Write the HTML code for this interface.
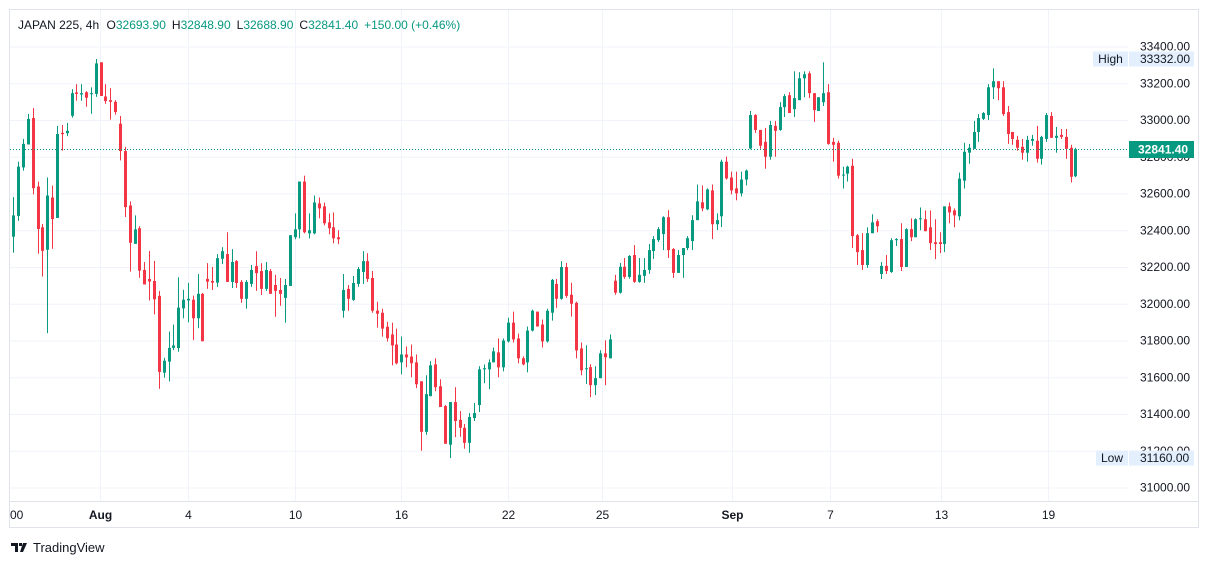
<!DOCTYPE html>
<html><head><meta charset="utf-8"><style>
html,body{margin:0;padding:0;background:#fff;}
svg{display:block;font-family:"Liberation Sans",sans-serif;}
</style></head><body>
<svg id="chart" width="1209" height="564" viewBox="0 0 1209 564" xmlns="http://www.w3.org/2000/svg">
<rect x="0" y="0" width="1209" height="564" fill="#fff"/>
<g id="grid"></g>
<rect x="9.5" y="9.5" width="1189" height="518" fill="none" stroke="#e0e3eb"/>
<line x1="10" y1="501.5" x2="1198" y2="501.5" stroke="#e0e3eb"/>
<g id="candles"></g>
<g id="yaxis"></g>
<g id="xaxis"></g>
<text x="18" y="29" font-size="12" fill="#131722">JAPAN 225, 4h <tspan dx="4">O</tspan><tspan fill="#089981">32693.90</tspan><tspan dx="6">H</tspan><tspan fill="#089981">32848.90</tspan><tspan dx="6">L</tspan><tspan fill="#089981">32688.90</tspan><tspan dx="6">C</tspan><tspan fill="#089981">32841.40</tspan><tspan dx="6" fill="#089981">+150.00 (+0.46%)</tspan></text>
<g>
<path d="M11 543h7v9h-3v-6h-4z M19 543h3v3h-3z M23 543h4l-4 9h-3z" fill="#131722"/>
<text x="33" y="552" font-size="13" fill="#131722">TradingView</text>
</g>
</svg>
<script>
const opens=[32365,32478,32742,32867,33011,32638,32416,32294,32578,32467,32930,32928,33023,33150,33139,33151,33142,33142,33314,33128,33108,33099,32980,32831,32535,32326,32411,32184,32135,32124,32043,31625,31685,31760,31759,31975,32018,32022,31921,32054,32135,32124,32115,32245,32270,32119,32232,32119,32027,32108,32205,32178,32081,32178,32102,32075,32032,32097,32362,32405,32665,32383,32383,32546,32530,32443,32416,32362,31962,32081,32021,32108,32173,32232,32140,31962,31951,31875,31833,31778,31681,31724,31713,31681,31578,31303,31497,31670,31551,31443,31233,31465,31368,31325,31243,31378,31449,31643,31643,31681,31735,31654,31795,31897,31811,31703,31681,31854,31957,31887,31795,31951,32108,32027,32200,32049,32005,31757,31644,31655,31557,31595,31730,31703,32125,32060,32201,32146,32265,32119,32152,32184,32287,32346,32379,32471,32298,32168,32265,32303,32341,32455,32552,32514,32617,32433,32476,32773,32687,32628,32601,32676,32845,33027,32946,32881,32800,32968,32946,33070,33135,33059,33108,33227,33254,33146,33049,33097,33151,32881,32876,32703,32708,32751,32373,32292,32211,32384,32449,32162,32206,32173,32346,32352,32200,32406,32362,32460,32460,32416,32335,32335,32325,32530,32508,32476,32670,32822,32843,32935,33006,33027,33178,33211,33178,33043,32935,32892,32854,32822,32887,32887,32789,32897,33022,32903,32919,32908,32849,32693.9];
const highs=[32580,32773,32897,33033,33065,32665,32434,32687,32643,32968,32973,32984,33168,33195,33195,33157,33178,33332,33314,33195,33173,33108,33022,32854,32557,32481,32422,32227,32287,32233,32070,31706,31849,31887,32144,32076,32114,32044,32162,32059,32221,32200,32270,32308,32389,32297,32238,32129,32129,32211,32286,32221,32227,32189,32157,32140,32135,32373,32492,32665,32697,32492,32589,32578,32551,32492,32497,32400,32162,32102,32151,32200,32286,32275,32178,32011,31973,31902,31897,31865,31822,31768,31778,31724,31578,31611,31687,31703,31589,31449,31465,31546,31416,31346,31405,31460,31660,31670,31697,31762,31811,31811,31924,31957,31838,31714,31876,31968,31957,31914,31973,32135,32135,32232,32222,32114,32011,31789,31774,31671,31660,31747,31801,31833,32157,32222,32249,32265,32319,32249,32249,32325,32368,32417,32476,32509,32303,32292,32303,32368,32482,32649,32644,32628,32649,32492,32784,32801,32719,32719,32719,32730,33049,33032,32946,32957,32995,32995,33097,33141,33151,33265,33260,33265,33265,33146,33124,33314,33195,32903,32887,32746,32751,32789,32379,32384,32416,32487,32460,32227,32265,32357,32357,32438,32411,32465,32465,32524,32508,32508,32460,32389,32530,32551,32519,32714,32876,32870,32995,33032,33043,33195,33281,33211,33211,33076,32935,32914,32897,32914,32919,32968,32914,33038,33043,32962,32951,32951,32865,32848.9];
const lows=[32278,32451,32724,32867,32595,32272,32148,31840,32299,32467,32833,32912,33013,33105,33105,33072,33034,33126,33131,33088,33002,33029,32780,32472,32175,32326,32141,32105,32018,31942,31537,31598,31577,31748,31739,31921,31899,31802,31867,31796,32081,32075,32092,32216,32119,32086,32086,32005,31973,32092,32070,32048,32070,32054,31929,31989,31897,32097,32351,32356,32383,32356,32378,32465,32427,32378,32329,32324,31924,31962,32016,32092,32108,32119,31951,31870,31821,31794,31665,31670,31616,31654,31600,31541,31200,31287,31497,31524,31438,31238,31160,31274,31276,31211,31189,31362,31411,31568,31535,31681,31600,31632,31789,31789,31676,31665,31627,31849,31876,31762,31789,31908,31978,32022,32032,31930,31703,31611,31563,31492,31503,31595,31557,31703,32049,32055,32136,32136,32114,32114,32114,32163,32244,32336,32292,32249,32141,32168,32141,32292,32292,32455,32503,32509,32352,32401,32417,32676,32595,32563,32584,32644,32840,32930,32843,32735,32784,32800,32941,33016,33038,33016,33108,33124,33119,32989,33049,33076,32865,32773,32681,32627,32665,32303,32211,32184,32195,32384,32389,32135,32162,32168,32314,32178,32200,32341,32362,32400,32395,32292,32243,32276,32281,32438,32416,32454,32627,32762,32843,32881,33000,33000,33114,33108,33022,32870,32865,32833,32784,32773,32860,32768,32757,32881,32903,32822,32897,32789,32660,32688.9];
const closes=[32481,32746,32870,33006,32629,32407,32288,32589,32461,32924,32923,32941,33146,33142,33146,33121,33146,33308,33131,33103,33099,33043,32831,32526,32332,32405,32180,32105,32121,32024,31629,31690,31760,31773,31979,32022,32027,31921,32054,31796,32120,32115,32248,32286,32119,32227,32113,32027,32119,32184,32167,32081,32184,32054,32070,32054,32102,32373,32405,32665,32389,32400,32551,32519,32438,32411,32356,32351,32075,32027,32113,32189,32232,32135,31962,31946,31865,31812,31773,31676,31724,31708,31676,31562,31303,31508,31665,31546,31438,31238,31465,31362,31325,31243,31384,31405,31643,31649,31681,31741,31654,31800,31897,31806,31703,31670,31854,31962,31876,31795,31962,32130,32027,32200,32043,32000,31746,31638,31649,31557,31595,31730,31709,31806,32060,32201,32146,32260,32119,32157,32184,32292,32352,32406,32471,32292,32168,32265,32303,32357,32455,32557,32519,32622,32433,32455,32773,32682,32617,32601,32676,32725,33027,32946,32860,32800,32973,32941,33070,33130,33038,33119,33227,33249,33146,33054,33124,33146,32870,32865,32697,32703,32746,32368,32281,32211,32384,32443,32422,32206,32178,32346,32352,32200,32406,32362,32460,32465,32395,32330,32325,32325,32530,32497,32481,32681,32827,32849,32935,33011,33038,33178,33211,33173,33032,32924,32897,32849,32822,32892,32897,32789,32908,33027,32903,32914,32908,32843,32691,32841.4];
const priceTicks=[33400,33200,33000,32800,32600,32400,32200,32000,31800,31600,31400,31200,31000];
const timeLabels=["00","Aug","4","10","16","22","25","Sep","7","13","19"];
const timeLabelIdx=[0,17.9,36,58.1,79.9,101.9,121.4,148.2,168.4,191.3,213.3];
const timeLabelBold=[false,true,false,false,false,false,false,true,false,false,false];
const lastPrice=32841.4, highPrice=33332, lowPrice=31160;

const NS="http://www.w3.org/2000/svg";
function y(p){return 46.5+(33400-p)*0.18375;}
function x(i){return 13.3+i*4.85;}
function mk(tag,attrs,parent){const e=document.createElementNS(NS,tag);for(const k in attrs)e.setAttribute(k,attrs[k]);parent.appendChild(e);return e;}
const grid=document.getElementById('grid'),cg=document.getElementById('candles'),ya=document.getElementById('yaxis'),xa=document.getElementById('xaxis');
priceTicks.forEach(p=>{
  const l=mk('line',{x1:10,x2:1128,y1:y(p)+0.5,y2:y(p)+0.5,stroke:'#f0f3fa'},grid);
  
  
  const t=mk('text',{x:1140,y:y(p)+4,'font-size':12,fill:'#131722'},ya);
  t.textContent=p.toFixed(2);
  
  
});
timeLabels.forEach((s,k)=>{
  const xx=Math.round(x(timeLabelIdx[k]))+0.5;
  if(k>0){const l=mk('line',{x1:xx,x2:xx,y1:10,y2:501,stroke:'#f0f3fa'},grid);
  
  }
  const t=mk('text',{x:k===0?10:xx,y:519,'font-size':12,fill:'#131722','text-anchor':k===0?'start':'middle','font-weight':timeLabelBold[k]?'bold':'normal'},xa);
  t.textContent=s;
  
  
});
for(let i=0;i<opens.length;i++){
  const up=closes[i]>=opens[i],c=up?'#089981':'#f23645',cx=Math.round(x(i));
  const g=mk('g',{},cg);
  
  
  mk('rect',{x:cx,y:y(highs[i]),width:1,height:Math.max(1,y(lows[i])-y(highs[i])),fill:c},g);
  const top=y(Math.max(opens[i],closes[i])),bot=y(Math.min(opens[i],closes[i]));
  mk('rect',{x:cx-1,y:top,width:3,height:Math.max(1,bot-top),fill:c},g);
}
// last price line + label
const ly=Math.round(y(lastPrice))+0.5;
const pl=mk('line',{x1:10,x2:1128,y1:ly,y2:ly,stroke:'#089981','stroke-dasharray':'1 2'},cg);


const pb=mk('rect',{x:1129,y:ly-8.5,width:65,height:17,fill:'#089981'},ya);


const pt=mk('text',{x:1138,y:ly+4,'font-size':12,fill:'#fff','font-weight':'bold'},ya);
pt.textContent=lastPrice.toFixed(2);


[["High",highPrice,1093],["Low",lowPrice,1096]].forEach(([n,p,bx])=>{
  const yy=y(p);
  const g=mk('g',{},ya);
  
  
  mk('rect',{x:bx,y:yy-7.5,width:1128-bx,height:15,fill:'#e3effd'},g);
  mk('rect',{x:1129,y:yy-7.5,width:65,height:15,fill:'#e3effd'},g);
  const a=mk('text',{x:(bx+1128)/2,y:yy+4,'font-size':12,fill:'#131722','text-anchor':'middle'},g);a.textContent=n;
  const b=mk('text',{x:1140,y:yy+4,'font-size':12,fill:'#131722'},g);b.textContent=p.toFixed(2);
});
</script>
</body></html>
